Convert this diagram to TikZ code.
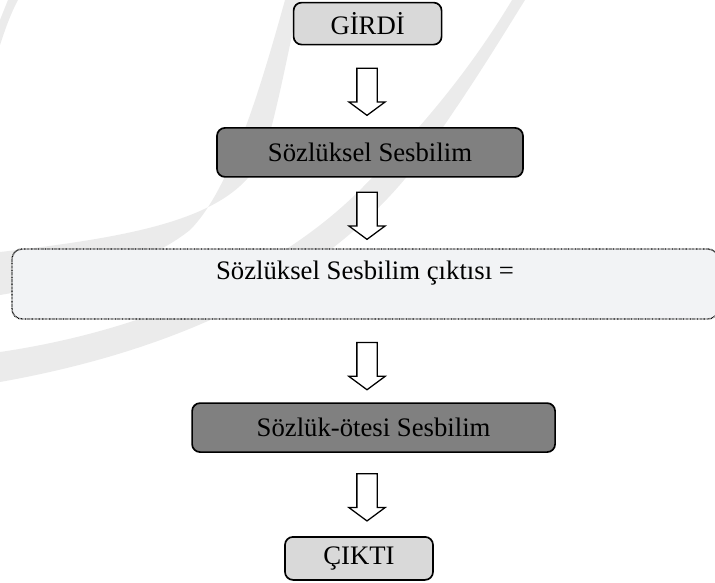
\documentclass[tikz,border=0pt]{standalone}
\usepackage{fontspec}
\setmainfont{Liberation Serif}
\usepackage{tikz}
\usetikzlibrary{shapes.arrows,positioning,calc}

\definecolor{lightbox}{HTML}{D9D9D9}
\definecolor{darkbox}{HTML}{808080}
\definecolor{outbox}{HTML}{F2F3F5}
\definecolor{swooshgray}{HTML}{EBEBEB}

\begin{document}
\begin{tikzpicture}[
    font=\fontsize{19pt}{22pt}\selectfont,
    endbox/.style={
        draw=black,
        rounded corners=2mm,
        line width=1.2pt,
        minimum width=3.7cm,
        minimum height=1.05cm,
        inner sep=0pt,
        align=center,
        fill=lightbox
    },
    phase/.style={
        draw=black,
        rounded corners=2mm,
        line width=1.2pt,
        minimum height=1.225cm,
        inner sep=0pt,
        align=center,
        fill=darkbox
    },
    result/.style={
        draw=black,
        dash pattern=on 0.5pt off 0.5pt,
        rounded corners=2.5mm,
        line width=1pt,
        minimum width=17.65cm,
        inner xsep=0pt,
        inner ysep=0.3cm,
        text height=0.46cm,
        text depth=0.69cm,
        fill=outbox
    },
    downarr/.style={
        draw=black,
        line width=0.9pt,
        fill=white,
        single arrow,
        shape border rotate=270,
        single arrow head extend=0.2cm,
        single arrow tip angle=107,
        single arrow head indent=0pt,
        inner xsep=0.2375cm,
        inner ysep=0pt,
        minimum height=1.18cm
    }
]
\useasboundingbox (0,0) rectangle (17.875,-14.55);

% faint swoosh in the background
\fill[swooshgray] (0,-9.55) .. controls (4.5,-8.75) and (8.25,-7.0) .. (10.5,-4.0)
    .. controls (11.75,-2.25) and (12.5,-1.0) .. (13.125,0)
    -- (12.8,0) .. controls (11.75,-1.75) and (10.5,-3.25) .. (9.0,-4.75)
    .. controls (7.0,-6.75) and (3.75,-8.25) .. (0,-8.8) -- cycle;
\fill[swooshgray] (0,-6.3) .. controls (3.75,-5.875) and (6.0,-5.375) .. (6.625,-3.75)
    .. controls (7.0,-2.5) and (7.25,-1.0) .. (7.5,0)
    -- (7.125,0) .. controls (6.5,-2.25) and (5.75,-4.75) .. (4.75,-5.75)
    .. controls (3.5,-6.75) and (1.5,-7.125) .. (0,-7.375) -- cycle;
\fill[swooshgray] (0,-1.125) .. controls (0.125,-0.75) and (0.25,-0.375) .. (0.45,0)
    -- (0.2,0) .. controls (0.1,-0.25) .. (0,-0.5) -- cycle;

% boxes
\node[endbox] (girdi) at (9.19,-0.59) {GİRDİ};
\node[phase, minimum width=7.65cm] (lex) at (9.25,-3.81) {Sözlüksel Sesbilim};
\node[result] (lexout) at (9.125,-7.1) {Sözlüksel Sesbilim çıktısı =};
\node[phase, minimum width=9.075cm] (postlex) at (9.34,-10.69) {Sözlük-ötesi Sesbilim};
\node[endbox, minimum height=1.075cm] (cikti) at (8.975,-13.96) {ÇIKTI};

% block arrows between the boxes
\node[downarr] (a1) at (9.175,-2.2) {};
\node[downarr] (a2) at (9.175,-5.3) {};
\node[downarr] (a3) at (9.175,-9.06) {};
\node[downarr] (a4) at (9.175,-12.34) {};

\end{tikzpicture}
\end{document}
